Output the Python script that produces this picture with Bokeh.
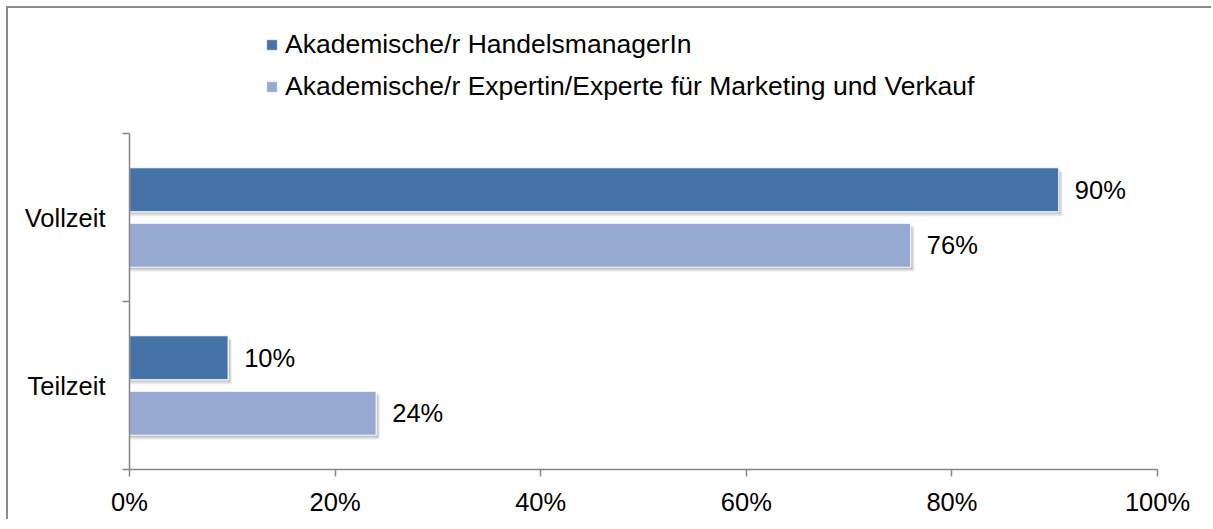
from bokeh.plotting import figure
from bokeh.layouts import column
from bokeh.models import ColumnDataSource, FixedTicker, Legend, LegendItem, LabelSet
from bokeh.core.properties import value
from bokeh.embed import file_html
from bokeh.resources import INLINE

# ---- data ----
categories = ["Teilzeit", "Vollzeit"]          # bottom to top
series_names = ["Akademische/r HandelsmanagerIn",
                "Akademische/r Expertin/Experte für Marketing und Verkauf"]
handel = [9.6, 90.4]
marketing = [24.0, 76.0]
x_ticks = [0, 20, 40, 60, 80, 100]
colors = ["#4573a7", "#95a9d1"]

FONT = "Liberation Sans"
FS = "25.5px"
AXIS_COL = "#868686"
W = 1205

# ---- legend strip ----
lf = figure(width=W, height=123, x_range=(0, 10), y_range=(0, 10),
            output_backend="svg", toolbar_location=None,
            min_border_left=0, min_border_right=0, min_border_top=0, min_border_bottom=0)
lf.axis.visible = False
lf.grid.visible = False
lf.outline_line_color = None
lf.border_fill_color = "white"
lf.background_fill_color = "white"
leg_renderers = [lf.hbar(y=[-50], left=[0], right=[1], height=1, fill_color=colors[i],
                         line_color="white", line_width=0.4) for i in range(2)]
legend = Legend(items=[LegendItem(label=series_names[i], renderers=[leg_renderers[i]]) for i in range(2)],
                location=(136, 29), orientation="vertical",
                glyph_width=13, glyph_height=13, label_standoff=7,
                spacing=11, padding=0, margin=0,
                border_line_color=None, background_fill_alpha=0,
                label_text_font=FONT, label_text_font_size="26.5px", label_text_color="black")
lf.add_layout(legend)

# ---- main chart ----
p = figure(width=W, height=390, x_range=(0, 100), y_range=(0, len(categories)),
           output_backend="svg", toolbar_location=None,
           min_border_left=121, min_border_right=56, min_border_top=2, min_border_bottom=52)
p.outline_line_color = None
p.xgrid.visible = False
p.ygrid.visible = False
p.background_fill_color = "white"
p.border_fill_color = "white"

offsets = [0.165, -0.165]
bar_h = 0.262
series_vals = [handel, marketing]
for s, vals in enumerate(series_vals):
    ys = [i + 0.5 + offsets[s] for i in range(len(categories))]
    src = ColumnDataSource(dict(y=ys, right=vals,
                                label=[f"{round(v)}%" for v in vals]))
    # soft shadow
    for dx, dy, a in [(0.35, -0.026, 0.08), (0.25, -0.018, 0.10), (0.12, -0.009, 0.12)]:
        shadow = ColumnDataSource(dict(y=[y + dy for y in ys], right=[v + dx for v in vals],
                                       left=[0 for _ in vals]))
        p.hbar(y="y", left="left", right="right", height=bar_h, source=shadow,
               fill_color="black", fill_alpha=a, line_color=None)
    p.hbar(y="y", left=0, right="right", height=bar_h, source=src,
           fill_color=colors[s], line_color="white", line_width=1.2)
    labels = LabelSet(x="right", y="y", text="label", source=src, x_offset=16,
                      text_baseline="middle", text_align="left",
                      text_font=value(FONT), text_font_size=value(FS), text_color="black")
    p.add_layout(labels)

# x axis
p.xaxis.ticker = FixedTicker(ticks=x_ticks)
p.xaxis.major_label_overrides = {t: f"{t}%" for t in x_ticks}
p.xaxis.major_tick_in = 0
p.xaxis.major_tick_out = 7
p.xaxis.minor_tick_out = 0
p.xaxis.minor_tick_in = 0
p.xaxis.major_label_standoff = 11

# y axis: labels at centers, ticks at category boundaries
p.yaxis.ticker = FixedTicker(ticks=[i + 0.5 for i in range(len(categories))],
                             minor_ticks=list(range(len(categories) + 1)))
p.yaxis.major_label_overrides = {i + 0.5: c for i, c in enumerate(categories)}
p.yaxis.major_tick_in = 0
p.yaxis.major_tick_out = 0
p.yaxis.minor_tick_in = 0
p.yaxis.minor_tick_out = 7
p.yaxis.major_label_standoff = 17

for ax in (p.xaxis, p.yaxis):
    ax.axis_line_color = AXIS_COL
    ax.axis_line_width = 1.5
    ax.major_tick_line_color = AXIS_COL
    ax.major_tick_line_width = 1.5
    ax.minor_tick_line_color = AXIS_COL
    ax.minor_tick_line_width = 1.5
    ax.major_label_text_font = FONT
    ax.major_label_text_font_size = FS
    ax.major_label_text_color = "black"

layout = column(lf, p, spacing=0)
layout.styles = {"margin-left": "8px", "margin-top": "8px",
                 "box-shadow": "-2px -2px 0 0 #8a8a8a"}

open("out.html", "w").write(file_html(layout, INLINE))
